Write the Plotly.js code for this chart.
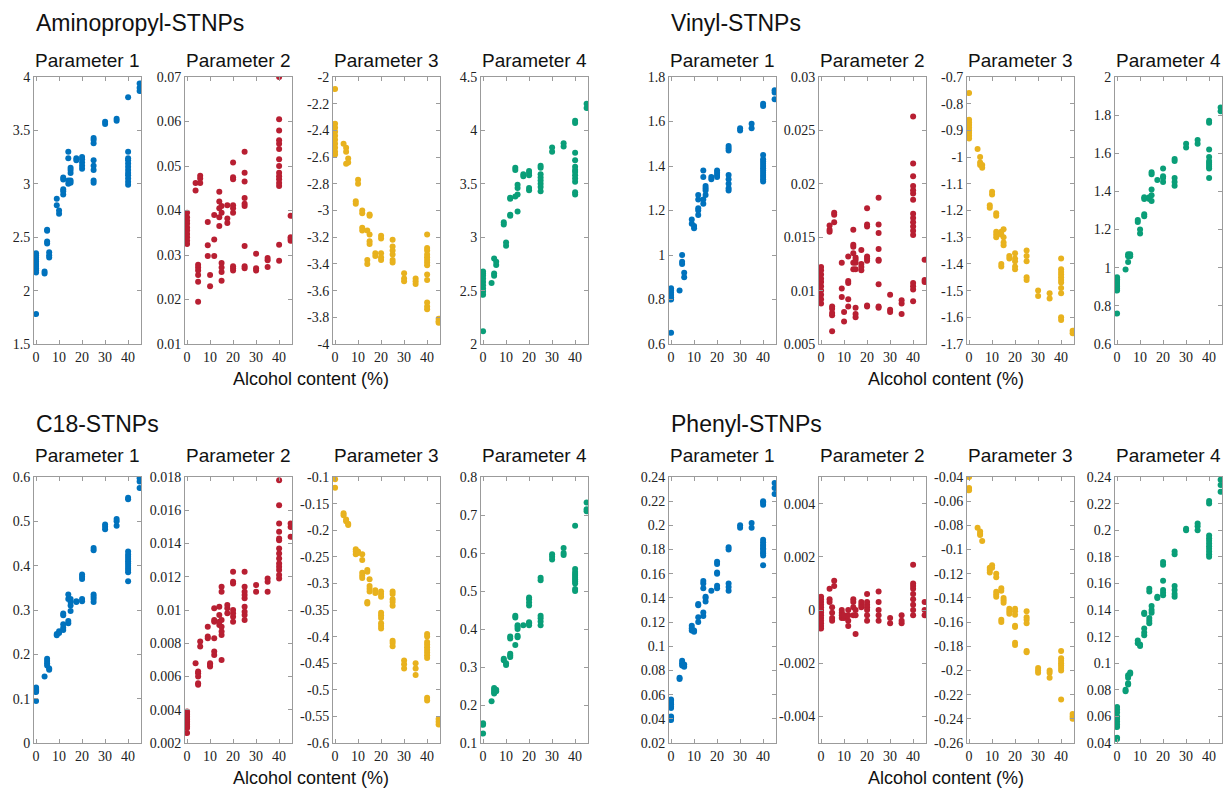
<!DOCTYPE html>
<html><head><meta charset="utf-8">
<script src="https://cdn.plot.ly/plotly-3.0.1.min.js"></script>
<style>body{margin:0;background:#fff}#chart{width:1224px;height:788px}</style>
</head><body><div id="chart"></div>
<script>
// Alcohol content levels (%) shared by every panel
const alcohol = [0, 3.7, 4.8, 5.7, 9, 10, 11.8, 14, 15, 17.5, 20, 25, 30, 35, 40, 45];
const groupNames = ['Aminopropyl-STNPs', 'Vinyl-STNPs', 'C18-STNPs', 'Phenyl-STNPs'];
const paramNames = ['Parameter 1', 'Parameter 2', 'Parameter 3', 'Parameter 4'];
const xAxisTitle = 'Alcohol content (%)';
const xTickLabels = [0, 10, 20, 30, 40];

// ---- Aminopropyl-STNPs ----
const amino_p1 = [[1.78,2.17,2.19,2.21,2.23,2.25,2.27,2.29,2.31,2.33,2.35],[2.16,2.18],[2.44,2.46,2.56,2.57],[2.31,2.33,2.36],[2.80,2.86],[2.72,2.75],[2.90,2.93,2.95,3.04,3.06],[3.00,3.03,3.24,3.30],[3.01,3.03,3.10,3.13,3.15],[3.22,3.24],[3.14,3.17,3.20,3.23,3.25],[3.01,3.03,3.13,3.17,3.22,3.38,3.41,3.43],[3.56,3.58],[3.59,3.61],[2.99,3.02,3.05,3.08,3.10,3.13,3.16,3.19,3.22,3.24,3.30,3.81],[3.87,3.90,3.94]];
const amino_p2 = [[0.0325,0.0332,0.0340,0.0347,0.0355,0.0362,0.0370,0.0377,0.0385,0.0395],[0.0445,0.0462],[0.0195,0.0240,0.0255,0.0265,0.0272,0.0278],[0.0462,0.0472,0.0478],[0.0298,0.0322,0.0374],[0.0230,0.0255],[0.0298,0.0335,0.0390],[0.0365,0.0385,0.0405,0.0420,0.0442],[0.0242,0.0262,0.0272,0.0282,0.0395,0.0410],[0.0372,0.0382,0.0412],[0.0265,0.0270,0.0275,0.0395,0.0405,0.0412,0.0470,0.0475,0.0508],[0.0270,0.0275,0.0320,0.0410,0.0415,0.0428,0.0465,0.0485,0.0532],[0.0265,0.0270,0.0303],[0.0273,0.0288,0.0293],[0.0287,0.0323,0.0455,0.0462,0.0470,0.0477,0.0485,0.0500,0.0515,0.0538,0.0550,0.0558,0.0580,0.0605,0.0700],[0.0332,0.0336,0.0340,0.0388]];
const amino_p3 = [[-2.09,-2.35,-2.38,-2.41,-2.44,-2.47,-2.50,-2.53,-2.56,-2.58],[-2.50],[-2.53,-2.56,-2.65],[-2.61,-2.64],[-2.93,-2.95],[-2.77,-2.80],[-3.00,-3.02,-3.13,-3.15],[-3.15,-3.37,-3.40],[-3.03,-3.04,-3.18,-3.23,-3.25],[-3.32,-3.34],[-3.19,-3.21,-3.32,-3.35,-3.37],[-3.22,-3.27,-3.30,-3.33,-3.37,-3.39],[-3.47,-3.51,-3.53],[-3.51,-3.53,-3.55],[-3.18,-3.28,-3.30,-3.33,-3.35,-3.37,-3.39,-3.41,-3.48,-3.52,-3.69,-3.72,-3.74],[-3.81,-3.83,-3.84]];
const amino_p4 = [[2.12,2.46,2.49,2.52,2.55,2.58,2.61,2.64,2.66,2.68],[2.57],[2.64,2.66,2.80],[2.74,2.77],[3.12,3.14],[2.92,2.95],[3.20,3.21,3.36,3.37],[3.38,3.63,3.65],[3.24,3.40,3.46,3.49],[3.57,3.59],[3.44,3.46,3.58,3.60,3.62],[3.43,3.47,3.50,3.53,3.56,3.59,3.65,3.67],[3.80,3.84],[3.85,3.88],[3.40,3.42,3.52,3.55,3.58,3.61,3.63,3.66,3.72,3.79,4.07,4.09],[4.21,4.25]];

// ---- Vinyl-STNPs ----
const vinyl_p1 = [[0.65,0.80,0.81,0.82,0.83,0.84,0.85],[0.84],[0.96,0.97,1.00],[0.90,0.92],[1.14,1.16],[1.12,1.13],[1.18,1.20,1.21,1.25,1.27],[1.23,1.25,1.35,1.38],[1.27,1.29,1.30,1.31],[1.34,1.35],[1.35,1.36,1.37,1.38],[1.29,1.30,1.32,1.34,1.36,1.47,1.48,1.49],[1.56,1.57],[1.57,1.59],[1.33,1.34,1.35,1.36,1.37,1.38,1.39,1.40,1.41,1.42,1.43,1.45,1.67,1.68],[1.70,1.73,1.74]];
const vinyl_p2 = [[0.0088,0.0092,0.0096,0.0100,0.0104,0.0108,0.0111,0.0115,0.0119,0.0122],[0.0155,0.0157,0.0161],[0.0062,0.0077,0.0079,0.0083,0.0085],[0.0164,0.0171,0.0173],[0.0094,0.0102,0.0126],[0.0071,0.0080],[0.0085,0.0092,0.0107,0.0109,0.0132],[0.0120,0.0126,0.0135,0.0141,0.0143,0.0157],[0.0075,0.0078,0.0084,0.0120,0.0126,0.0129,0.0131],[0.0119,0.0122,0.0125,0.0138],[0.0085,0.0086,0.0128,0.0130,0.0132,0.0160,0.0162,0.0177],[0.0084,0.0085,0.0106,0.0128,0.0129,0.0139,0.0154,0.0162,0.0187],[0.0080,0.0082,0.0096],[0.0078,0.0088,0.0091],[0.0090,0.0101,0.0104,0.0107,0.0152,0.0156,0.0160,0.0164,0.0168,0.0172,0.0185,0.0191,0.0194,0.0198,0.0207,0.0219,0.0263],[0.0108,0.0110,0.0129]];
const vinyl_p3 = [[-0.76,-0.86,-0.87,-0.88,-0.89,-0.90,-0.91,-0.92,-0.93],[-0.97],[-1.00,-1.02,-1.03],[-1.03,-1.04],[-1.18,-1.19],[-1.13,-1.14],[-1.21,-1.22,-1.28,-1.29,-1.30],[-1.28,-1.29,-1.40,-1.41],[-1.27,-1.30,-1.32,-1.33],[-1.37,-1.38],[-1.36,-1.38,-1.39,-1.41,-1.42],[-1.35,-1.37,-1.39,-1.45,-1.46],[-1.50,-1.52],[-1.51,-1.53],[-1.38,-1.42,-1.43,-1.44,-1.45,-1.46,-1.47,-1.49,-1.51,-1.60,-1.61],[-1.65,-1.66]];
const vinyl_p4 = [[0.76,0.88,0.89,0.90,0.91,0.92,0.93,0.94,0.95],[0.99],[1.03,1.06,1.07],[1.06,1.07],[1.24,1.25],[1.18,1.20],[1.27,1.28,1.36,1.37],[1.36,1.37],[1.35,1.38,1.41,1.49,1.50],[1.46],[1.45,1.47,1.48,1.52],[1.43,1.45,1.47,1.56,1.57],[1.63,1.65],[1.65,1.67],[1.47,1.52,1.53,1.54,1.55,1.56,1.58,1.62,1.76,1.77],[1.82,1.84]];

// ---- C18-STNPs ----
const c18_p1 = [[0.095,0.115,0.117,0.119,0.121,0.123,0.125],[0.150],[0.175,0.180,0.185,0.190],[0.165,0.168],[0.243,0.246],[0.248,0.252],[0.255,0.260,0.268,0.288,0.292],[0.270,0.275,0.325,0.335],[0.298,0.310,0.318,0.325],[0.318,0.320],[0.320,0.325,0.370,0.375,0.380],[0.318,0.325,0.330,0.335,0.435,0.440],[0.482,0.488,0.493],[0.490,0.500,0.505],[0.365,0.385,0.390,0.395,0.400,0.405,0.410,0.415,0.420,0.425,0.432,0.550,0.553],[0.575,0.590,0.597]];
const c18_p2 = [[0.0026,0.0029,0.0030,0.0031,0.0032,0.0033,0.0034,0.0035,0.0036,0.0037,0.0038,0.0039],[0.0068],[0.0055,0.0056,0.0060,0.0062,0.0063],[0.0078,0.0081],[0.0083,0.0084,0.0090],[0.0066,0.0067,0.0068],[0.0073,0.0075,0.0083,0.0093,0.0094,0.0101],[0.0091,0.0093,0.0097,0.0102],[0.0070,0.0085,0.0087,0.0090,0.0094,0.0111,0.0114],[0.0098,0.0101,0.0103],[0.0093,0.0096,0.0098,0.0100,0.0116,0.0117,0.0123],[0.0094,0.0097,0.0099,0.0102,0.0107,0.0109,0.0111,0.0114,0.0123],[0.0111,0.0115],[0.0111,0.0117,0.0119],[0.0119,0.0121,0.0124,0.0126,0.0128,0.0131,0.0134,0.0137,0.0142,0.0143,0.0147,0.0152,0.0163,0.0178],[0.0144,0.0150,0.0152]];
const c18_p3 = [[-0.104,-0.120],[-0.168,-0.172],[-0.180,-0.183],[-0.188,-0.190],[-0.236,-0.240,-0.245],[-0.240,-0.243],[-0.245,-0.256,-0.280,-0.285,-0.290],[-0.275,-0.278,-0.335,-0.338],[-0.292,-0.305,-0.310,-0.315],[-0.313,-0.318],[-0.315,-0.320,-0.325,-0.355,-0.360,-0.365,-0.375,-0.380,-0.385],[-0.315,-0.320,-0.330,-0.335,-0.342,-0.408,-0.412,-0.418],[-0.445,-0.452,-0.460],[-0.450,-0.460,-0.472],[-0.395,-0.400,-0.410,-0.415,-0.420,-0.425,-0.430,-0.435,-0.440,-0.515,-0.520],[-0.555,-0.560,-0.565]];
const c18_p4 = [[0.125,0.148,0.152],[0.210],[0.230,0.235,0.240,0.245],[0.236,0.240],[0.318,0.322],[0.305,0.310],[0.326,0.330,0.335,0.375,0.380],[0.358,0.430,0.435],[0.378,0.382,0.400,0.405,0.410],[0.410],[0.410,0.415,0.418,0.462,0.470,0.478,0.483],[0.410,0.420,0.428,0.435,0.528,0.535],[0.583,0.590,0.597],[0.595,0.600,0.613],[0.500,0.505,0.520,0.525,0.530,0.535,0.540,0.545,0.550,0.558,0.672],[0.710,0.715,0.733]];

// ---- Phenyl-STNPs ----
const phenyl_p1 = [[0.039,0.041,0.042,0.049,0.050,0.052,0.053,0.055,0.056],[0.073,0.074],[0.084,0.086,0.088],[0.083,0.085],[0.113,0.115,0.117],[0.112,0.113],[0.120,0.124,0.134,0.135],[0.125,0.128,0.148,0.152,0.154],[0.137,0.140,0.141],[0.146],[0.148,0.150,0.160,0.161,0.168,0.170],[0.146,0.149,0.152,0.180,0.182],[0.198,0.200],[0.198,0.202],[0.167,0.175,0.177,0.178,0.180,0.181,0.183,0.184,0.186,0.188,0.217,0.219,0.220],[0.226,0.231,0.235]];
const phenyl_p2 = [[-0.0007,-0.0006,-0.0005,-0.0004,-0.0003,-0.0002,-0.0001,0,0.0001,0.0002,0.0003,0.0004,0.0005],[0.0003,0.0004,0.0008],[-0.0004,-0.0003,-0.0001,0.0001],[0.0009,0.0011],[-0.0003,-0.0002,-0.0001,0],[-0.0003,-0.0002],[-0.0006,-0.0004,-0.0002,0],[-0.0002,0.0001,0.0003,0.0004],[-0.0009,-0.0002,0],[0.0001,0.0002,0.0003],[-0.0004,-0.0002,0,0.0001,0.0002,0.0003,0.0006],[-0.0004,-0.0002,0,0.0003,0.0007],[-0.0005,-0.0003],[-0.0005,-0.0004,-0.0002],[-0.0002,0,0.0002,0.0004,0.0006,0.0008,0.0009,0.0010,0.0017],[-0.0002,0,0.0003]];
const phenyl_p3 = [[-0.040,-0.049,-0.050,-0.051],[-0.082],[-0.085,-0.087,-0.088],[-0.093],[-0.115,-0.117,-0.119],[-0.113,-0.115],[-0.120,-0.123,-0.135,-0.137,-0.139],[-0.132,-0.134,-0.158,-0.160],[-0.140,-0.142,-0.144],[-0.149,-0.151,-0.153],[-0.149,-0.151,-0.154,-0.163,-0.164,-0.177,-0.179],[-0.151,-0.156,-0.158,-0.161,-0.184,-0.185],[-0.198,-0.200,-0.202],[-0.200,-0.202,-0.206],[-0.184,-0.190,-0.192,-0.194,-0.196,-0.198,-0.200,-0.224],[-0.236,-0.238,-0.240]];
const phenyl_p4 = [[0.043,0.044,0.052,0.054,0.056,0.058,0.060,0.063,0.065,0.067],[0.079,0.080],[0.084,0.085,0.089,0.091],[0.092,0.093],[0.115,0.117],[0.113,0.114],[0.121,0.123,0.126,0.137,0.138],[0.130,0.132,0.134,0.154,0.156],[0.138,0.140,0.143],[0.149,0.150],[0.151,0.153,0.155,0.162,0.174,0.176],[0.150,0.152,0.155,0.158,0.182,0.184],[0.200,0.201],[0.200,0.203,0.205],[0.180,0.182,0.184,0.186,0.188,0.190,0.192,0.194,0.196,0.220,0.222],[0.229,0.234,0.238]];

// y-axis ranges and tick steps, panel order: group by group, parameter 1..4
const yRanges = [[1.5,4],[0.01,0.07],[-4,-2],[2,4.5],
                 [0.6,1.8],[0.005,0.03],[-1.7,-0.7],[0.6,2],
                 [0,0.6],[0.002,0.018],[-0.6,-0.1],[0.1,0.8],
                 [0.02,0.24],[-0.005,0.005],[-0.26,-0.04],[0.04,0.24]];
const yDticks = [0.5,0.01,0.2,0.5, 0.2,0.005,0.1,0.2, 0.1,0.002,0.05,0.1, 0.02,0.002,0.02,0.02];

const panelData = [amino_p1, amino_p2, amino_p3, amino_p4,
                   vinyl_p1, vinyl_p2, vinyl_p3, vinyl_p4,
                   c18_p1, c18_p2, c18_p3, c18_p4,
                   phenyl_p1, phenyl_p2, phenyl_p3, phenyl_p4];
const colors = ['#0072BD', '#B81F32', '#E8B21E', '#0A9E78'];

// ---- layout geometry (pixels) ----
const W = 1224, H = 788;
const boxW = 107;
const leftCols = [[34, 185, 333, 481], [669, 819, 967, 1115]];
const rowBox = [[77, 344], [477, 743]];
const rowGroupTitleY = [23, 424];
const rowParamTitleY = [60, 455];
const rowXTitleY = [379, 778];

const tickFont = {family: 'Liberation Serif', size: 14, color: '#222'};
const titleFamily = 'Liberation Sans';

// tick values on a step grid through 0, labelled with a plain hyphen minus
function yTicks(range, step) {
  const vals = [];
  const start = Math.ceil(range[0] / step - 1e-9);
  const end = Math.floor(range[1] / step + 1e-9);
  for (let i = start; i <= end; i++) vals.push(+(i * step).toFixed(6));
  return {vals, text: vals.map(v => String(v))};
}

const traces = [];
const layout = {
  width: W, height: H, autosize: false,
  margin: {l: 0, r: 0, t: 0, b: 0, pad: 0},
  paper_bgcolor: '#fff', plot_bgcolor: '#fff',
  showlegend: false, annotations: []
};

for (let g = 0; g < 4; g++) {
  const row = Math.floor(g / 2), col = g % 2;
  const [top, bot] = rowBox[row];
  for (let p = 0; p < 4; p++) {
    const k = g * 4 + p + 1;
    const sfx = k === 1 ? '' : String(k);
    const xs = [], ys = [];
    panelData[k - 1].forEach((vals, i) => vals.forEach(v => { xs.push(alcohol[i]); ys.push(v); }));
    traces.push({
      type: 'scatter', mode: 'markers', x: xs, y: ys,
      xaxis: 'x' + sfx, yaxis: 'y' + sfx,
      marker: {size: 6, color: colors[p], line: {width: 0}},
      cliponaxis: true, hoverinfo: 'skip'
    });
    const left = leftCols[col][p];
    const axBase = {showline: true, linecolor: '#9b9b9b', linewidth: 1, mirror: 'ticks',
      ticks: 'inside', ticklen: 4, tickcolor: '#9b9b9b', tickwidth: 1,
      showgrid: false, zeroline: false, tickfont: tickFont, fixedrange: true};
    const yt = yTicks(yRanges[k - 1], yDticks[k - 1]);
    layout['xaxis' + sfx] = Object.assign({}, axBase, {
      domain: [left / W, (left + boxW) / W], anchor: 'y' + sfx,
      range: [-0.9, 45.6], tickmode: 'array', tickvals: xTickLabels, ticktext: xTickLabels.map(String)
    });
    layout['yaxis' + sfx] = Object.assign({}, axBase, {
      domain: [1 - bot / H, 1 - top / H], anchor: 'x' + sfx,
      range: yRanges[k - 1], tickmode: 'array', tickvals: yt.vals, ticktext: yt.text
    });
    layout.annotations.push({
      xref: 'paper', yref: 'paper', x: (left + boxW / 2) / W, y: 1 - rowParamTitleY[row] / H,
      xanchor: 'center', yanchor: 'middle', showarrow: false, text: paramNames[p],
      font: {family: titleFamily, size: 19, color: '#111'}
    });
  }
  const gl = leftCols[col][0], gr = leftCols[col][3] + boxW;
  layout.annotations.push({
    xref: 'paper', yref: 'paper', x: gl / W, y: 1 - rowGroupTitleY[row] / H,
    xanchor: 'left', yanchor: 'middle', showarrow: false, text: groupNames[g],
    font: {family: titleFamily, size: 23, color: '#111'}
  });
  layout.annotations.push({
    xref: 'paper', yref: 'paper', x: (gl + gr) / 2 / W, y: 1 - rowXTitleY[row] / H,
    xanchor: 'center', yanchor: 'middle', showarrow: false, text: xAxisTitle,
    font: {family: titleFamily, size: 18, color: '#111'}
  });
}

Plotly.newPlot('chart', traces, layout, {staticPlot: true, displayModeBar: false});
</script></body></html>
